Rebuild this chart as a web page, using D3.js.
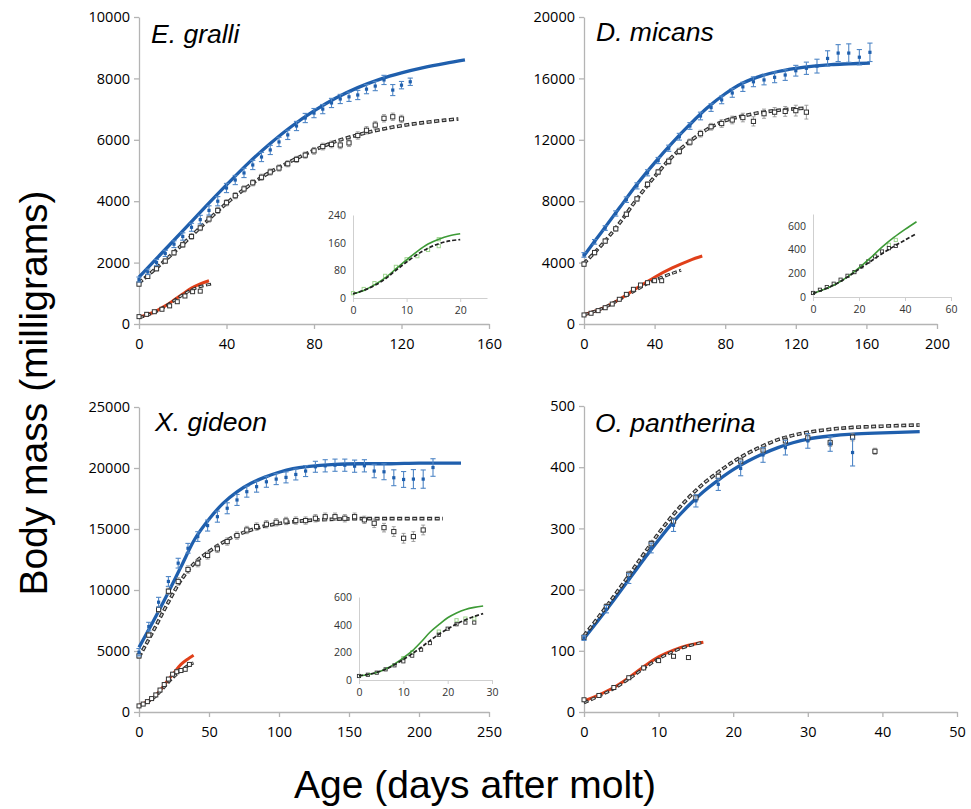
<!DOCTYPE html>
<html><head><meta charset="utf-8">
<script src="https://cdn.jsdelivr.net/npm/d3@7"></script>
<style>body{margin:0;background:#fff}</style>
</head><body><svg id="c" width="971" height="809"></svg>
<script>
// ---------------- DATA ----------------
// E. gralli
const egBlueFit=[[0,1530],[10,2280],[20,3030],[30,3790],[40,4530],[50,5240],[60,5880],[70,6450],[80,6940],[90,7360],[100,7700],[110,7970],[120,8180],[130,8350],[140,8490],[149,8600]];
const egBlackFit=[[0,1340],[10,1950],[20,2600],[30,3280],[40,3930],[50,4490],[60,4950],[70,5320],[80,5660],[90,5950],[100,6160],[110,6330],[120,6460],[130,6560],[140,6640],[146,6680]];
const egBluePts=[[0,1450,80],[4,1700,90],[8,2000,100],[12,2300,100],[16,2600,110],[20,2850,120],[24,3150,130],[28,3400,140],[32,3700,150],[36,4000,150],[40,4430,150],[44,4690,150],[48,4920,150],[52,5180,150],[56,5440,150],[60,5670,150],[64,5930,150],[68,6160,150],[72,6450,150],[76,6710,150],[80,6870,150],[84,7000,150],[88,7200,150],[92,7330,150],[96,7400,150],[100,7460,150],[104,7650,150],[108,7750,150],[112,7950,150],[116,7620,180],[120,7780,120],[124,7890,120]];
const egBlackPts=[[0,1300,60],[4,1550,60],[8,1800,70],[12,2050,70],[16,2320,80],[20,2580,80],[24,2850,90],[28,3130,90],[32,3420,100],[36,3700,100],[40,3950,100],[44,4180,100],[48,4400,100],[52,4600,100],[56,4780,100],[60,4950,100],[64,5080,100],[68,5220,100],[72,5360,100],[76,5500,100],[80,5640,110],[84,5780,110],[88,5850,110],[92,5830,120],[96,5900,120],[100,6140,120],[104,6310,120],[108,6480,120],[112,6700,120],[116,6750,120],[120,6680,120]];
const egRedFit=[[0,220],[4,310],[8,430],[12,590],[16,780],[20,980],[24,1170],[28,1310],[32,1410]];
const egSmallFit=[[0,200],[4,290],[8,410],[12,570],[16,760],[20,950],[24,1110],[28,1220],[33,1300]];
const egSmallPts=[[0,240,30],[3.5,315,30],[7,400,30],[10.5,480,30],[14,590,40],[17.5,726,40],[21,912,40],[24.5,1052,40],[28,1070,40]];
const egInsetGreen=[[0,12],[2,22],[4,38],[6,58],[8,84],[10,110],[12,135],[14,156],[16,170],[18,180],[20,186]];
const egInsetDash=[[0,12],[2,22],[4,36],[6,55],[8,80],[10,104],[12,126],[14,144],[16,157],[18,165],[20,169]];
const egInsetPts=[];
const egInsetGreenPts=[[0,14],[2,26],[4,43],[6,64],[8,90],[10,112],[12,121],[14,139],[16,150],[16,170]];

// D. micans
const dmBlueFit=[[0,4450],[10,6000],[20,7550],[30,9100],[40,10500],[50,11800],[60,13000],[70,14100],[80,15000],[90,15700],[100,16150],[110,16450],[120,16650],[130,16800],[140,16900],[150,16950],[162,17000]];
const dmBlackFit=[[0,3950],[10,5150],[20,6550],[30,8150],[40,9600],[50,10900],[60,11900],[70,12700],[80,13250],[90,13550],[100,13780],[110,13920],[120,14020],[126,14060]];
const dmBluePts=[[0,4500,150],[6,5350,150],[12,6250,150],[18,7200,170],[24,8100,180],[30,9000,200],[36,9850,200],[42,10650,200],[48,11450,200],[54,12200,220],[60,12900,220],[66,13550,250],[72,14100,250],[78,14600,250],[84,15050,280],[90,15450,300],[96,15780,320],[102,15900,320],[108,16070,350],[114,16220,350],[120,16500,350],[126,16660,400],[132,16800,450],[138,17300,500],[144,17650,550],[150,17650,600],[156,17380,500],[162,17700,600]];
const dmBlackPts=[[0,3900,150],[6,4650,150],[12,5400,150],[18,6200,150],[24,7150,150],[30,8150,150],[36,9100,170],[42,9900,170],[48,10600,200],[54,11250,200],[60,11850,200],[66,12400,220],[72,12850,220],[78,13060,250],[84,13290,250],[90,13450,280],[96,13200,300],[102,13700,300],[108,13800,300],[114,13850,320],[120,13900,350],[126,13800,450]];
const dmRedFit=[[0,600],[10,1000],[20,1600],[30,2350],[40,3050],[50,3650],[60,4150],[67,4430]];
const dmSmallFit=[[0,600],[10,1000],[20,1580],[30,2250],[40,2850],[50,3300],[55,3500]];
const dmSmallPts=[[0,590,60],[4,700,60],[8,870,60],[12,1060,70],[16,1300,70],[20,1610,80],[24,1930,80],[28,2260,90],[32,2540,90],[36,2690,100],[40,2820,100],[44,2820,100]];
const dmInsetGreen=[[0,30],[5,65],[10,110],[15,170],[20,245],[25,330],[30,420],[35,500],[40,570],[45,635]];
const dmInsetDash=[[0,30],[5,65],[10,110],[15,168],[20,235],[25,300],[30,365],[35,425],[40,480],[45,535]];
const dmInsetPts=[[0,34],[3,61],[6,84],[9,112],[12,146],[15,179],[18,210],[21,258],[24,300],[27,342],[30,384],[33,412],[36,431]];
const dmInsetGreenPts=[[33,440],[36,481]];

// X. gideon
const xgBlueFit=[[0,5300],[10,7400],[20,9600],[30,11900],[40,14200],[50,15800],[60,17100],[70,18050],[80,18750],[90,19250],[100,19650],[110,19950],[120,20120],[140,20300],[160,20350],[180,20350],[200,20400],[230,20400]];
const xgBlackFit=[[0,4500],[10,6600],[20,8800],[30,10800],[40,12250],[50,13150],[60,13900],[70,14500],[80,14920],[90,15250],[100,15450],[120,15700],[140,15800],[160,15850],[180,15850],[200,15850],[217,15850]];
const xgBluePts=[[0,4900,300],[7,7000,350],[14,9000,400],[21,10700,400],[28,12200,400],[35,13420,400],[42,14380,400],[49,15280,450],[56,16010,450],[63,16700,450],[70,17380,450],[77,18060,450],[84,18470,450],[91,18870,450],[98,19090,450],[105,19230,450],[112,19470,450],[119,19750,450],[126,20100,450],[133,20180,500],[140,20230,500],[147,20230,500],[154,20150,500],[161,20180,500],[168,19750,550],[175,19690,650],[182,19200,650],[189,19060,650],[196,19090,780],[203,19090,750],[210,20040,720]];
const xgBlackPts=[[0,4600,200],[7,6300,200],[14,8400,250],[21,9900,250],[28,10700,300],[35,11680,300],[42,12200,300],[49,12830,300],[56,13370,300],[63,13970,300],[70,14460,300],[77,14920,300],[84,15200,300],[91,15390,300],[98,15550,300],[105,15660,300],[112,15690,300],[119,15690,300],[126,15880,300],[133,16010,300],[140,16010,300],[147,15880,300],[154,16010,300],[161,15750,300],[168,15470,350],[175,15110,350],[182,14790,400],[189,14240,400],[196,14380,400],[203,14920,400]];
const xgRedFit=[[0,550],[5,800],[10,1150],[15,1750],[20,2500],[25,3200],[30,3900],[35,4350],[39,4650]];
const xgSmallFit=[[0,500],[5,750],[10,1100],[15,1650],[20,2300],[25,2900],[30,3400],[35,3800],[39,4030]];
const xgSmallPts=[[0,500,80],[3,650,80],[6,850,90],[9,1100,100],[12,1400,110],[15,1800,120],[18,2250,130],[21,2700,140],[24,3100,150],[27,3300,150],[30,3400,150],[33,3500,150],[36,3900,150]];
const xgInsetGreen=[[0,30],[2,40],[4,55],[6,80],[8,115],[10,160],[12,210],[14,275],[16,345],[18,400],[20,450],[22,485],[24,510],[26,525],[28,535]];
const xgInsetDash=[[0,30],[2,40],[4,55],[6,78],[8,110],[10,148],[12,190],[14,235],[16,285],[18,330],[20,370],[22,405],[24,435],[26,460],[28,480]];
const xgInsetPts=[[0,29],[2,38],[4,53],[6,77],[8,106],[10,135],[12,176],[14,219],[16,267],[18,327],[20,371],[22,403],[24,415],[26,415]];
const xgInsetGreenPts=[[10,158],[12,200],[18,350],[22,432],[24,444],[26,444]];

// O. pantherina
const opBlueFit=[[0,120],[2,151],[4,183],[6,216],[8,249],[10,281],[12,311],[14,337],[16,360],[18,379],[20,396],[22,410],[24,422],[26,432],[28,440],[30,446],[33,451],[36,454],[40,456],[45,458]];
const opBlackFit=[[0,125],[2,156],[4,189],[6,223],[8,258],[10,292],[12,323],[14,350],[16,373],[18,392],[20,409],[22,423],[24,435],[26,445],[28,452],[30,457],[33,462],[36,465],[40,467],[45,469]];
const opBluePts=[[0,121,4],[3,168,6],[6,218,8],[9,268,8],[12,305,10],[15,345,10],[18,372,10],[21,398,12],[24,420,12],[27,432,12],[30,443,12],[33,438,12],[36,424,22]];
const opBlackPts=[[0,122,4],[3,172,5],[6,225,5],[9,275,5],[12,312,5],[15,350,5],[18,385,5],[21,410,5],[24,428,5],[27,443,6],[30,448,6],[33,440,6],[36,449,6],[39,426,5]];
const opRedFit=[[0,18],[2,28],[4,40],[6,56],[8,74],[10,90],[12,101],[14,109],[16,114]];
const opSmallFit=[[0,15],[2,26],[4,38],[6,54],[8,71],[10,87],[12,99],[14,108],[16,114]];
const opSmallPts=[[0,20,2],[2,27,2],[4,40,2],[6,56,2],[8,72,2],[10,84,2],[12,91,2],[14,89,2]];

// ---------------- LAYOUT ----------------
const panels=[
 {title:"E. gralli",tx:151,ty:43,xr:[139,489],yr:[324,17],xd:[0,160],yd:[0,10000],xt:[0,40,80,120,160],yt:[0,2000,4000,6000,8000,10000],
  big:egBlueFit,bigDash:egBlackFit,bigPts:egBluePts,bigSq:egBlackPts,small:egRedFit,smallDash:egSmallFit,smallSq:egSmallPts,
  inset:{xr:[353,487],yr:[298,215],xd:[0,25],yd:[0,240],xt:[0,10,20],yt:[0,80,160,240],green:egInsetGreen,dash:egInsetDash,pts:egInsetPts,gpts:egInsetGreenPts}},
 {title:"D. micans",tx:596,ty:41,xr:[584,937],yr:[324,17],xd:[0,200],yd:[0,20000],xt:[0,40,80,120,160,200],yt:[0,4000,8000,12000,16000,20000],
  big:dmBlueFit,bigDash:dmBlackFit,bigPts:dmBluePts,bigSq:dmBlackPts,small:dmRedFit,smallDash:dmSmallFit,smallSq:dmSmallPts,
  inset:{xr:[813,951],yr:[297,214],xd:[0,60],yd:[0,700],xt:[0,20,40,60],yt:[0,200,400,600],green:dmInsetGreen,dash:dmInsetDash,pts:dmInsetPts,gpts:dmInsetGreenPts}},
 {title:"X. gideon",tx:155,ty:431,xr:[139,489],yr:[712,407],xd:[0,250],yd:[0,25000],xt:[0,50,100,150,200,250],yt:[0,5000,10000,15000,20000,25000],
  big:xgBlueFit,bigDash:xgBlackFit,bigPts:xgBluePts,bigSq:xgBlackPts,small:xgRedFit,smallDash:xgSmallFit,smallSq:xgSmallPts,
  inset:{xr:[359,492],yr:[680,597],xd:[0,30],yd:[0,600],xt:[0,10,20,30],yt:[0,200,400,600],green:xgInsetGreen,dash:xgInsetDash,pts:xgInsetPts,gpts:xgInsetGreenPts}},
 {title:"O. pantherina",tx:595,ty:432,xr:[584,957],yr:[712,406],xd:[0,50],yd:[0,500],xt:[0,10,20,30,40,50],yt:[0,100,200,300,400,500],
  big:opBlueFit,bigDash:opBlackFit,bigPts:opBluePts,bigSq:opBlackPts,small:opRedFit,smallDash:opSmallFit,smallSq:opSmallPts,inset:null}
];

const BLUE="#1f5fad", BLUE_ERR="#4f86c6", RED="#e0401a", GREEN="#3d9a36";
const svg=d3.select("#c");
const TICKFONT="'Open Sans', sans-serif";

function dashedFit(g,data,x,y,w){
  const line=d3.line().x(d=>x(d[0])).y(d=>y(d[1])).curve(d3.curveCatmullRom);
  g.append("path").attr("d",line(data)).attr("fill","none").attr("stroke","#2e2e2e").attr("stroke-width",w).attr("stroke-dasharray","5,2.5");
  g.append("path").attr("d",line(data)).attr("fill","none").attr("stroke","#d8d8d8").attr("stroke-width",w*0.38).attr("stroke-dasharray","3,4.5").attr("stroke-dashoffset",-1);
}
function solidFit(g,data,x,y,color,w){
  const line=d3.line().x(d=>x(d[0])).y(d=>y(d[1])).curve(d3.curveCatmullRom);
  g.append("path").attr("d",line(data)).attr("fill","none").attr("stroke",color).attr("stroke-width",w).attr("stroke-linejoin","round");
}
function errBars(g,pts,x,y,color,cap,w){
  pts.forEach(p=>{
    if(!p[2]) return;
    const cx=x(p[0]), y1=y(p[1]-p[2]), y2=y(p[1]+p[2]);
    g.append("line").attr("x1",cx).attr("x2",cx).attr("y1",y1).attr("y2",y2).attr("stroke",color).attr("stroke-width",w);
    [y1,y2].forEach(yy=>g.append("line").attr("x1",cx-cap).attr("x2",cx+cap).attr("y1",yy).attr("y2",yy).attr("stroke",color).attr("stroke-width",w));
  });
}
function squares(g,pts,x,y,size,fill,stroke,sw){
  g.selectAll(null).data(pts).enter().append("rect")
   .attr("x",d=>x(d[0])-size/2).attr("y",d=>y(d[1])-size/2).attr("width",size).attr("height",size)
   .attr("fill",fill).attr("stroke",stroke).attr("stroke-width",sw);
}

panels.forEach(P=>{
  const x=d3.scaleLinear().domain(P.xd).range(P.xr);
  const y=d3.scaleLinear().domain(P.yd).range(P.yr);
  const g=svg.append("g");
  const ya=g.append("g").attr("transform",`translate(${P.xr[0]},0)`)
    .call(d3.axisLeft(y).tickValues(P.yt).tickSize(5).tickSizeOuter(0).tickPadding(4).tickFormat(d3.format("d")));
  const xa=g.append("g").attr("transform",`translate(0,${P.yr[0]})`)
    .call(d3.axisBottom(x).tickValues(P.xt).tickSize(5).tickSizeOuter(0).tickPadding(10).tickFormat(d3.format("d")));
  [ya,xa].forEach(a=>{
    a.select(".domain").attr("stroke","#b4b4b4").attr("stroke-width",1.3);
    a.selectAll(".tick line").attr("stroke","#b4b4b4").attr("stroke-width",1.3);
    a.selectAll(".tick text").attr("font-family",TICKFONT).attr("font-size",14.5).attr("fill","#000");
  });
  g.append("text").attr("x",P.tx).attr("y",P.ty).text(P.title)
   .attr("font-family","'Liberation Sans', Arial, sans-serif").attr("font-style","italic").attr("font-size",26.5).attr("fill","#000");

  if(P.inset){
    const I=P.inset;
    const ix=d3.scaleLinear().domain(I.xd).range(I.xr);
    const iy=d3.scaleLinear().domain(I.yd).range(I.yr);
    const ig=g.append("g");
    const iya=ig.append("g").attr("transform",`translate(${I.xr[0]},0)`)
      .call(d3.axisLeft(iy).tickValues(I.yt).tickSize(0).tickSizeOuter(0).tickPadding(7));
    const ixa=ig.append("g").attr("transform",`translate(0,${I.yr[0]})`)
      .call(d3.axisBottom(ix).tickValues(I.xt).tickSize(4).tickSizeOuter(0).tickPadding(4.5));
    [iya,ixa].forEach(a=>{
      a.select(".domain").attr("stroke","#cfcfcf").attr("stroke-width",1);
      a.selectAll(".tick line").attr("stroke","#cfcfcf");
      a.selectAll(".tick text").attr("font-family",TICKFONT).attr("font-size",10.5).attr("fill","#333");
    });
    squares(ig,I.gpts,ix,iy,3.2,"none","#9fd58f",1);
    squares(ig,I.pts,ix,iy,3.2,"#fff","#333",0.9);
    solidFit(ig,I.green,ix,iy,GREEN,1.6);
    const line=d3.line().x(d=>ix(d[0])).y(d=>iy(d[1])).curve(d3.curveCatmullRom);
    ig.append("path").attr("d",line(I.dash)).attr("fill","none").attr("stroke","#222").attr("stroke-width",1.7).attr("stroke-dasharray","4,2");
  }

  solidFit(g,P.big,x,y,BLUE,3.3);
  dashedFit(g,P.bigDash,x,y,3.6);
  errBars(g,P.bigSq,x,y,"#8a8a8a",2,0.8);
  squares(g,P.bigSq,x,y,4.2,"#fff","#333",1);
  errBars(g,P.bigPts,x,y,BLUE_ERR,2.6,1.1);
  squares(g,P.bigPts,x,y,3.2,BLUE,"none",0);
  solidFit(g,P.small,x,y,RED,3);
  dashedFit(g,P.smallDash,x,y,3);
  errBars(g,P.smallSq,x,y,"#8a8a8a",1.5,0.7);
  squares(g,P.smallSq,x,y,4,"#fff","#333",1);
});

svg.append("text").attr("transform","translate(47,393) rotate(-90)").attr("text-anchor","middle")
  .attr("font-family","'Liberation Sans', Arial, sans-serif").attr("font-size",39).attr("fill","#000").text("Body mass (milligrams)");
svg.append("text").attr("x",475).attr("y",798).attr("text-anchor","middle")
  .attr("font-family","'Liberation Sans', Arial, sans-serif").attr("font-size",39).attr("fill","#000").text("Age (days after molt)");
</script>
</body></html>
